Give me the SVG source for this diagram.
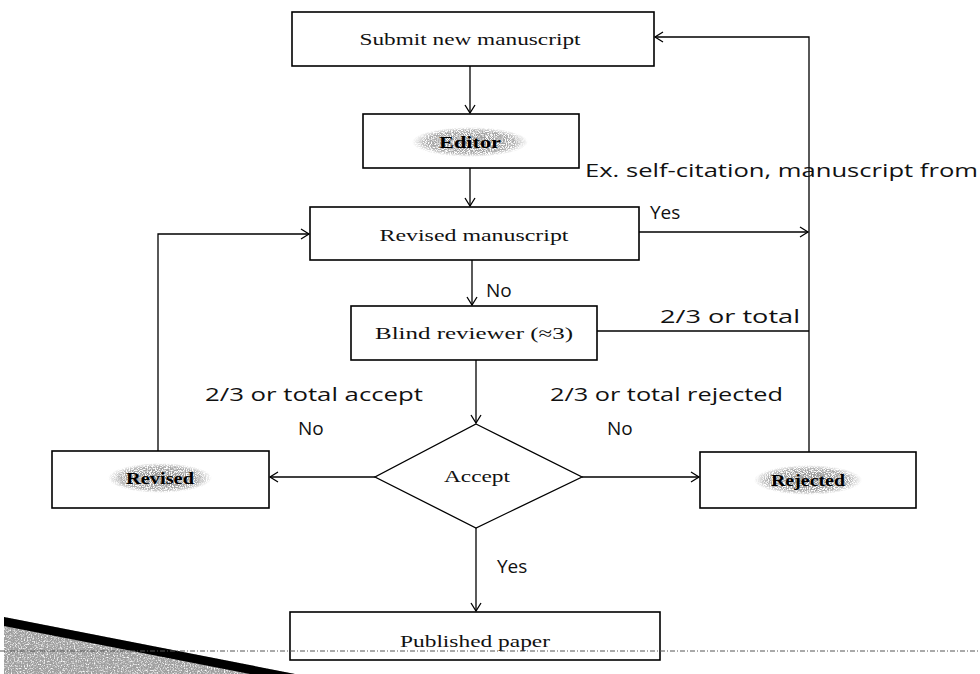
<svg xmlns="http://www.w3.org/2000/svg" width="980" height="674" viewBox="0 0 980 674">
<defs>
  <marker id="arr" markerWidth="12" markerHeight="12" refX="10" refY="6" orient="auto" markerUnits="userSpaceOnUse">
    <path d="M2,1 L10,6 L2,11" fill="none" stroke="#000" stroke-width="1.3"/>
  </marker>
  <radialGradient id="fade">
    <stop offset="0" stop-color="#000" stop-opacity="1"/>
    <stop offset="0.75" stop-color="#000" stop-opacity="0.7"/>
    <stop offset="1" stop-color="#000" stop-opacity="0"/>
  </radialGradient>
  <filter id="speckle" x="0" y="0" width="1" height="1">
    <feTurbulence type="fractalNoise" baseFrequency="0.95" numOctaves="1" seed="4" result="n"/>
    <feColorMatrix in="n" type="matrix" values="0 0 0 0 0.25  0 0 0 0 0.25  0 0 0 0 0.25  0 0 0 -5 3.2" result="dots"/>
    <feComposite in="dots" in2="SourceGraphic" operator="in"/>
  </filter>
  <filter id="tex" x="0" y="0" width="1" height="1">
    <feTurbulence type="fractalNoise" baseFrequency="0.7" numOctaves="2" seed="7" result="n"/>
    <feColorMatrix in="n" type="matrix" values="0 0 0 0 0.35  0 0 0 0 0.35  0 0 0 0 0.35  0 0 0 -3 2.4" result="dots"/>
    <feComposite in="dots" in2="SourceGraphic" operator="in"/>
  </filter>
</defs>
<style>
  .box{fill:#fff;stroke:#000;stroke-width:1.6}
  .n{font-family:"Liberation Serif","Times New Roman",serif;font-size:17px;fill:#111;text-anchor:middle}
  .nb{font-family:"Liberation Serif","Times New Roman",serif;font-size:17px;font-weight:bold;fill:#000;text-anchor:middle}
  .lab{font-family:"Open Sans","DejaVu Sans",sans-serif;font-size:19px;fill:#111}
  .c{fill:none;stroke:#000;stroke-width:1.3}
</style>

<g id="corner">
  <polygon points="4,617 295,674 4,674" fill="#fff"/>
  <polygon points="4,617 295,674 4,674" fill="#000" filter="url(#tex)"/>
  <polygon points="4,617 295,674 250,674 4,626" fill="#000"/>
</g>

<g id="connectors">
  <line class="c" x1="470" y1="66" x2="470" y2="113" marker-end="url(#arr)"/>
  <line class="c" x1="470" y1="168" x2="470" y2="206" marker-end="url(#arr)"/>
  <line class="c" x1="472" y1="260" x2="472" y2="305" marker-end="url(#arr)"/>
  <line class="c" x1="476" y1="360" x2="476" y2="423" marker-end="url(#arr)"/>
  <line class="c" x1="375" y1="477" x2="270" y2="477" marker-end="url(#arr)"/>
  <line class="c" x1="582" y1="477" x2="699" y2="477" marker-end="url(#arr)"/>
  <line class="c" x1="476" y1="528" x2="476" y2="611" marker-end="url(#arr)"/>
  <polyline class="c" points="158,451 158,234 309,234" marker-end="url(#arr)"/>
  <polyline class="c" points="809,452 809,37 655,37" marker-end="url(#arr)"/>
  <line class="c" x1="639" y1="232" x2="808" y2="232" marker-end="url(#arr)"/>
  <line class="c" x1="597" y1="331" x2="809" y2="331"/>
</g>

<g id="submit">
  <rect class="box" x="292" y="12" width="362" height="54"/>
  <text class="n" x="470" y="45" font-size="19" textLength="221" lengthAdjust="spacingAndGlyphs">Submit new manuscript</text>
</g>

<g id="editor">
  <rect class="box" x="363" y="114" width="216" height="54"/>
  <ellipse cx="470" cy="142" rx="58" ry="15" fill="url(#fade)" filter="url(#speckle)"/>
  <text class="nb" x="470" y="148" textLength="62" lengthAdjust="spacingAndGlyphs">Editor</text>
</g>

<g id="revised-manuscript">
  <rect class="box" x="310" y="207" width="329" height="53"/>
  <text class="n" x="474" y="241" textLength="189" lengthAdjust="spacingAndGlyphs">Revised manuscript</text>
</g>

<g id="blind-reviewer">
  <rect class="box" x="351" y="306" width="246" height="54"/>
  <text class="n" x="474" y="339" textLength="198" lengthAdjust="spacingAndGlyphs">Blind reviewer (≈3)</text>
</g>

<g id="accept">
  <polygon points="476,424 582,477 476,528 375,477" fill="#fff" stroke="#000" stroke-width="1.3"/>
  <text class="n" x="477" y="482" textLength="66" lengthAdjust="spacingAndGlyphs">Accept</text>
</g>

<g id="revised">
  <rect class="box" x="52" y="451" width="217" height="57"/>
  <ellipse cx="160" cy="478" rx="52" ry="15" fill="url(#fade)" filter="url(#speckle)"/>
  <text class="nb" x="160" y="484" textLength="68" lengthAdjust="spacingAndGlyphs">Revised</text>
</g>

<g id="rejected">
  <rect class="box" x="700" y="452" width="216" height="56"/>
  <ellipse cx="808" cy="480" rx="54" ry="15" fill="url(#fade)" filter="url(#speckle)"/>
  <text class="nb" x="808" y="486" textLength="74" lengthAdjust="spacingAndGlyphs">Rejected</text>
</g>

<g id="published">
  <rect class="box" x="290" y="612" width="370" height="48"/>
  <text class="n" x="475" y="647" textLength="150" lengthAdjust="spacingAndGlyphs">Published paper</text>
</g>

<line x1="0" y1="651" x2="980" y2="651" stroke="#555" stroke-width="1" stroke-dasharray="5,2,1,2"/>

<g id="labels">
  <text class="lab" x="585" y="177" textLength="393" lengthAdjust="spacingAndGlyphs">Ex. self-citation, manuscript from</text>
  <text class="lab" x="650" y="219">Yes</text>
  <text class="lab" x="486" y="297">No</text>
  <text class="lab" x="660" y="323" textLength="140" lengthAdjust="spacingAndGlyphs">2/3 or total</text>
  <text class="lab" x="205" y="401" textLength="218" lengthAdjust="spacingAndGlyphs">2/3 or total accept</text>
  <text class="lab" x="298" y="435">No</text>
  <text class="lab" x="550" y="401" textLength="233" lengthAdjust="spacingAndGlyphs">2/3 or total rejected</text>
  <text class="lab" x="607" y="435">No</text>
  <text class="lab" x="497" y="573">Yes</text>
</g>
</svg>
